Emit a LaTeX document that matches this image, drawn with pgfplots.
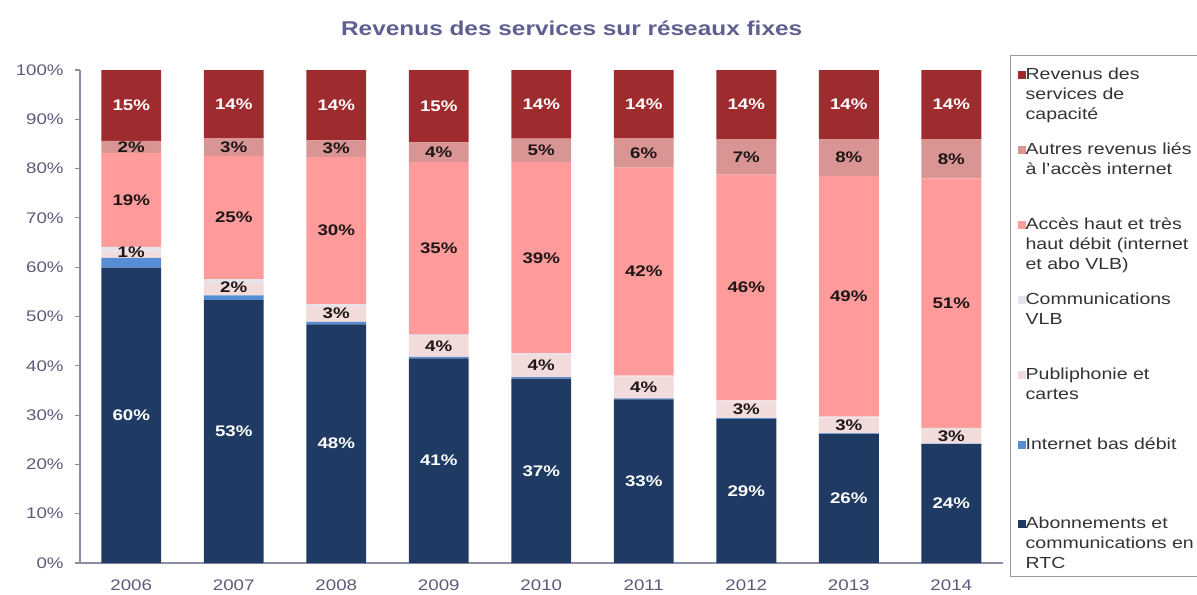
\documentclass[border=0pt]{standalone}
\usepackage{pgfplots}
\pgfplotsset{compat=1.18}
\usepackage{pgfplotstable}
\usepackage{fontspec}
\setmainfont{Liberation Sans}[FakeStretch=1.22]
\definecolor{cRTC}{HTML}{1F3A63}
\definecolor{cBD}{HTML}{558ED5}
\definecolor{cPub}{HTML}{F2DCDB}
\definecolor{cVLB}{HTML}{E6E4EA}
\definecolor{cHD}{HTML}{FF9B9B}
\definecolor{cAut}{HTML}{D89593}
\definecolor{cCap}{HTML}{9E2B2E}
\definecolor{cTitle}{HTML}{5F6090}
\definecolor{cTick}{HTML}{5A5A7A}
\definecolor{cAxis}{HTML}{8C8CA8}
\definecolor{cLab}{HTML}{1E1616}

\pgfplotstableread{
x rtc bd pub vlb hd aut cap lrtc lpub lhd laut lcap
0 59.9 2.0 1.3 0.9 19.1 2.4 14.4 60 1 19 2 15
1 53.3 1.0 2.5 0.8 25.0 3.6 13.8 53 2 25 3 14
2 48.4 0.5 3.2 0.4 29.9 3.3 14.3 48 3 30 3 14
3 41.5 0.3 4.2 0.3 35.0 4.0 14.7 41 4 35 4 15
4 37.4 0.3 4.5 0.3 38.8 4.8 13.9 37 4 39 5 14
5 33.2 0.2 4.4 0.2 42.2 6.0 13.8 33 4 42 6 14
6 29.2 0.2 3.4 0.2 45.8 7.2 14.0 29 3 46 7 14
7 26.2 0.1 3.2 0.2 48.8 7.5 14.0 26 3 49 8 14
8 24.1 0.1 3.0 0.2 50.6 8.0 14.0 24 3 51 8 14
}\data

\newcommand{\lent}[2][56.25pt]{\parbox[t][#1][t]{140pt}{\raggedright\rule{0pt}{15pt}#2}}

\begin{document}
\begin{tikzpicture}
\useasboundingbox (-60pt,-23.25pt) rectangle (837.75pt,422.25pt);
\begin{axis}[
  scale only axis, width=691.9pt, height=369.75pt,
  ybar stacked, bar width=0.585,
  xmin=-0.5, xmax=8.5, ymin=0, ymax=100,
  axis x line*=bottom, axis y line*=left,
  axis line style={cAxis, line width=0.8pt},
  xtick={0,1,2,3,4,5,6,7,8},
  xticklabels={2006,2007,2008,2009,2010,2011,2012,2013,2014},
  x tick style={draw=none},
  minor xtick={-0.5,0.5,1.5,2.5,3.5,4.5,5.5,6.5,7.5,8.5},
  minor x tick style={cAxis, line width=0.8pt},
  minor tick length=3.75pt,
  ytick={0,10,...,100},
  yticklabel={\pgfmathprintnumber{\tick}\%},
  major tick length=3.75pt,
  tick align=outside,
  y tick style={cAxis, line width=0.8pt},
  ticklabel style={font=\fontsize{11.5}{13}\selectfont, text=cTick},
  yticklabel style={xshift=-5pt},
  xticklabel style={yshift=-5pt},
  /pgf/number format/assume math mode=true,
  title={Revenus des services sur réseaux fixes},
  title style={font=\fontsize{15}{18}\selectfont\bfseries, text=cTitle, at={(0.533,1.069)}, anchor=center, yshift=0pt},
  reverse legend,
  legend cell align=left,
  legend style={at={(1.008,1.030)}, anchor=north west, draw=gray!80, line width=0.6pt,
    font=\fontsize{12}{15}\selectfont, text=black!80,
    cells={anchor=base west}, nodes={inner sep=0pt, text depth={}},
    row sep=0pt, inner xsep=6pt, inner ysep=3pt,
    /tikz/every even column/.append style={column sep=3pt}},
  legend image code/.code={\fill[#1,draw=none] (0pt,0.8pt) rectangle (5.5pt,6.3pt);},
]
\addplot[fill=cRTC, draw=none] table[x=x,y=rtc]{\data};
\addlegendentry{\lent[48pt]{Abonnements et\newline communications en\newline RTC}}
\addplot[fill=cBD, draw=none] table[x=x,y=bd]{\data};
\addlegendentry{\lent[59.25pt]{Internet bas débit}}
\addplot[fill=cPub, draw=none] table[x=x,y=pub]{\data};
\addlegendentry{\lent[52.5pt]{Publiphonie et\newline cartes}}
\addplot[fill=cVLB, draw=none] table[x=x,y=vlb]{\data};
\addlegendentry{\lent{Communications\newline VLB}}
\addplot[fill=cHD, draw=none] table[x=x,y=hd]{\data};
\addlegendentry{\lent{Accès haut et très\newline haut débit (internet\newline et abo VLB)}}
\addplot[fill=cAut, draw=none] table[x=x,y=aut]{\data};
\addlegendentry{\lent{Autres revenus liés\newline à l'accès internet}}
\addplot[fill=cCap, draw=none] table[x=x,y=cap]{\data};
\addlegendentry{\lent{Revenus des\newline services de\newline capacité}}
\end{axis}
\begin{axis}[
  scale only axis, width=691.9pt, height=369.75pt,
  xmin=-0.5, xmax=8.5, ymin=0, ymax=100, hide axis, clip=false,
  point meta=explicit symbolic,
  nodes near coords={\pgfplotspointmeta\%},
  nodes near coords align=center,
  every node near coord/.style={font=\fontsize{11.5}{13}\selectfont\bfseries, anchor=center, inner sep=0pt},
]
\addplot[only marks, mark=*, mark size=0pt, mark options={draw=none,fill=none},
  every node near coord/.append style={text=white}]
  table[x=x, y expr=0.5*\thisrow{rtc}, meta=lrtc]{\data};
\addplot[only marks, mark=*, mark size=0pt, mark options={draw=none,fill=none},
  every node near coord/.append style={text=cLab}]
  table[x=x, y expr=\thisrow{rtc}+\thisrow{bd}+0.5*(\thisrow{pub}+\thisrow{vlb}), meta=lpub]{\data};
\addplot[only marks, mark=*, mark size=0pt, mark options={draw=none,fill=none},
  every node near coord/.append style={text=cLab}]
  table[x=x, y expr=\thisrow{rtc}+\thisrow{bd}+\thisrow{pub}+\thisrow{vlb}+0.5*\thisrow{hd}, meta=lhd]{\data};
\addplot[only marks, mark=*, mark size=0pt, mark options={draw=none,fill=none},
  every node near coord/.append style={text=cLab}]
  table[x=x, y expr=\thisrow{rtc}+\thisrow{bd}+\thisrow{pub}+\thisrow{vlb}+\thisrow{hd}+0.5*\thisrow{aut}, meta=laut]{\data};
\addplot[only marks, mark=*, mark size=0pt, mark options={draw=none,fill=none},
  every node near coord/.append style={text=white}]
  table[x=x, y expr=100-0.5*\thisrow{cap}, meta=lcap]{\data};
\end{axis}
\end{tikzpicture}
\end{document}
